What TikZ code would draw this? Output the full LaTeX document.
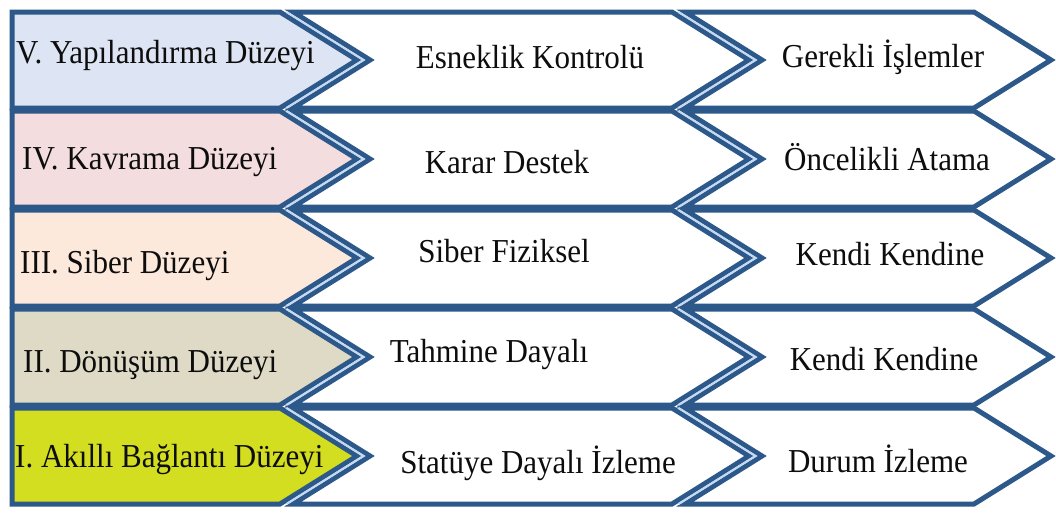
\documentclass[tikz,border=0pt]{standalone}
\usepackage{fontspec}
\usepackage{graphicx}
\setmainfont{Liberation Serif}

\definecolor{edge}{RGB}{45,88,138}
\definecolor{seam}{RGB}{195,218,242}
\definecolor{lvV}{RGB}{221,228,243}
\definecolor{lvIV}{RGB}{243,221,222}
\definecolor{lvIII}{RGB}{252,233,220}
\definecolor{lvII}{RGB}{222,218,198}
\definecolor{lvI}{RGB}{212,222,32}

% slightly tall lettering
\newcommand\tallword[1]{\scalebox{1}[1.08]{#1}}

\tikzset{
  outline/.style={draw=edge, line width=5pt, line join=miter},
  seamline/.style={draw=seam, line width=2.2pt},
  lbl/.style={inner sep=0pt, font=\fontsize{31}{36}\selectfont, text=black!95},
}

\begin{document}
\begin{tikzpicture}[x=1pt,y=-1pt]
\useasboundingbox (0,0) rectangle (1056,514);
\fill[white] (0,0) rectangle (1056,514);

% five levels, each a pentagon followed by two chevrons
\foreach \yt/\col in {12/lvV,111/lvIV,210/lvIII,309/lvII,408/lvI}{
  \pgfmathsetmacro\ym{\yt+48}
  \pgfmathsetmacro\yb{\yt+96}
  \path[outline, fill=\col] (12,\yt) -- (280,\yt) -- (357,\ym) -- (280,\yb) -- (12,\yb) -- cycle;
  \path[outline, fill=white] (293,\yt) -- (672,\yt) -- (749,\ym) -- (672,\yb) -- (293,\yb) -- (370,\ym) -- cycle;
  \path[outline, fill=white] (685,\yt) -- (974,\yt) -- (1051,\ym) -- (974,\yb) -- (685,\yb) -- (762,\ym) -- cycle;
  \draw[seamline] (286.5,\yt) -- (363.5,\ym) -- (286.5,\yb);
  \draw[seamline] (678.5,\yt) -- (755.5,\ym) -- (678.5,\yb);
}

% level names
\node[lbl, anchor=base west] (lv5) at (16,63)  {\tallword{V. Yapılandırma Düzeyi}};
\node[lbl, anchor=base west] (lv4) at (22,169) {\tallword{IV. Kavrama Düzeyi}};
\node[lbl, anchor=base west] (lv3) at (20,273) {\tallword{III. Siber Düzeyi}};
\node[lbl, anchor=base west] (lv2) at (23,372) {\tallword{II. Dönüşüm Düzeyi}};
\node[lbl, anchor=base west] (lv1) at (15,467) {\tallword{I. Akıllı Bağlantı Düzeyi}};

% middle column
\node[lbl, anchor=base] (m5) at (530,68)  {\tallword{Esneklik Kontrolü}};
\node[lbl, anchor=base] (m4) at (507,173) {\tallword{Karar Destek}};
\node[lbl, anchor=base] (m3) at (504,262) {\tallword{Siber Fiziksel}};
\node[lbl, anchor=base] (m2) at (489,362) {\tallword{Tahmine Dayalı}};
\node[lbl, anchor=base] (m1) at (538,473) {\tallword{Statüye Dayalı İzleme}};

% right column
\node[lbl, anchor=base] (r5) at (883,67)  {\tallword{Gerekli İşlemler}};
\node[lbl, anchor=base] (r4) at (887,170) {\tallword{Öncelikli Atama}};
\node[lbl, anchor=base] (r3) at (890,265) {\tallword{Kendi Kendine}};
\node[lbl, anchor=base] (r2) at (884,370) {\tallword{Kendi Kendine}};
\node[lbl, anchor=base] (r1) at (878,472) {\tallword{Durum İzleme}};
\end{tikzpicture}
\end{document}
